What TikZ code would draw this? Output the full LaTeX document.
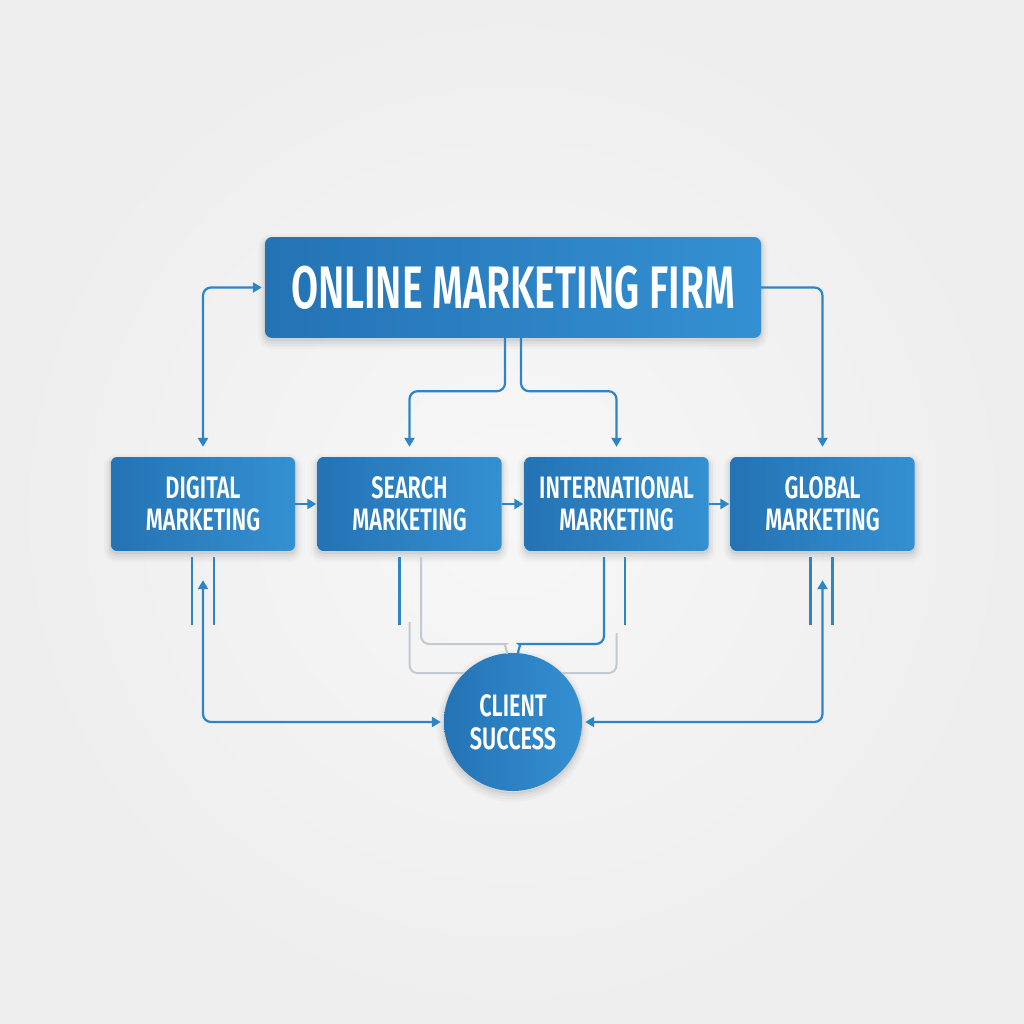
\documentclass[tikz,border=0pt]{standalone}
\usepackage{fontspec}
\newfontfamily\condt[FakeStretch=0.655,BoldFont={Fira Sans SemiBold}]{Fira Sans}
\newfontfamily\condb[FakeStretch=0.70,BoldFont={Fira Sans SemiBold}]{Fira Sans}
\usetikzlibrary{arrows.meta,calc}
\definecolor{bgc}{HTML}{EEEEEE}
\definecolor{bgi}{HTML}{F7F7F7}
\definecolor{boxL}{HTML}{2473B4}
\definecolor{boxR}{HTML}{3490D2}
\definecolor{linec}{HTML}{2C85C7}
\definecolor{grayc}{HTML}{C2C9D0}
\begin{document}
\begin{tikzpicture}[x=1pt,y=-1pt,
  >={Triangle[length=9pt,width=10pt]},
  softshadow/.style={
    preaction={draw=black, draw opacity=0.025, line width=14pt, transform canvas={yshift=-4pt}},
    preaction={draw=black, draw opacity=0.03, line width=9pt, transform canvas={yshift=-4pt}},
    preaction={draw=black, draw opacity=0.04, line width=5pt, transform canvas={yshift=-3pt}},
    preaction={draw=black, draw opacity=0.05, line width=2pt, transform canvas={yshift=-2pt}}},
  boxbase/.style={draw=none, text=white, align=center, inner sep=0pt,
    left color=boxL, right color=boxR, softshadow},
  box/.style={boxbase, rounded corners=6pt, minimum width=184pt, minimum height=94pt,
    font=\condb\bfseries\fontsize{31}{32}\selectfont},
  titlebox/.style={boxbase, rounded corners=7pt, minimum width=496pt, minimum height=101pt,
    font=\condt\bfseries\fontsize{60}{60}\selectfont},
  hub/.style={boxbase, circle, minimum size=138pt,
    font=\condb\bfseries\fontsize{31}{33}\selectfont},
  conn/.style={draw=linec, line width=2.2pt, rounded corners=8pt},
  stub/.style={draw=linec, line width=2.2pt},
  grayl/.style={draw=grayc, line width=2pt, rounded corners=8pt}]
\shade[inner color=bgi, outer color=bgc] (0,0) rectangle (1024,1024);
\useasboundingbox (0,0) rectangle (1024,1024);

\node[titlebox] (top) at (513,287.5) {ONLINE MARKETING FIRM};
\node[box] (dig) at (203,504) {DIGITAL\\MARKETING};
\node[box] (sea) at (409.5,504) {SEARCH\\MARKETING};
\node[box] (int) at (616.5,504) {INTERNATIONAL\\MARKETING};
\node[box] (glo) at (822.5,504) {GLOBAL\\MARKETING};
\node[hub] (cli) at (513,722) {CLIENT\\SUCCESS};

\coordinate (jL) at (498,644);
\coordinate (jR) at (527,644);

% top connections
\draw[conn,<->,shorten <=10pt,shorten >=3pt] (dig.north) |- (top.west);
\draw[conn,->,shorten >=10pt] (top.east) -| (glo.north);
\draw[conn,->,shorten >=10pt] ([xshift=-8pt]top.south) -- ++(0,53) -| (sea.north);
\draw[conn,->,shorten >=10pt] ([xshift=8pt]top.south) -- ++(0,53) -| (int.north);

% row arrows
\draw[conn,->,shorten >=1pt] (dig.east) -- (sea.west);
\draw[conn,->,shorten >=1pt] (sea.east) -- (int.west);
\draw[conn,->,shorten >=1pt] (int.east) -- (glo.west);

% stubs under boxes
\draw[stub] ([xshift=-11pt,yshift=-6pt]dig.south) -- ++(0,68);
\draw[stub] ([xshift=11pt,yshift=-6pt]dig.south) -- ++(0,68);
\draw[stub] ([xshift=-10pt,yshift=-6pt]sea.south) -- ++(0,68);
\draw[stub] ([xshift=8.5pt,yshift=-6pt]int.south) -- ++(0,68);
\draw[stub] ([xshift=-12pt,yshift=-6pt]glo.south) -- ++(0,68);
\draw[stub] ([xshift=10pt,yshift=-6pt]glo.south) -- ++(0,68);

% client success links
\draw[conn,<->,shorten >=3pt] ([yshift=-29pt]dig.south) |- (cli.west);
\draw[conn,<->,shorten >=3pt] ([yshift=-29pt]glo.south) |- (cli.east);
\draw[grayl] ([xshift=11.5pt,yshift=-6pt]sea.south) |- (jL) to[out=0,in=90] ([xshift=-6pt,yshift=-1pt]cli.north);
\draw[conn] ([xshift=-12.5pt,yshift=-6pt]int.south) |- (jR) to[out=180,in=90] ([xshift=5pt,yshift=-1pt]cli.north);
\draw[grayl] ([yshift=-71pt]sea.south) |- (cli.north west);
\draw[grayl] ([yshift=-82pt]int.south) |- (cli.north east);
\end{tikzpicture}
\end{document}
